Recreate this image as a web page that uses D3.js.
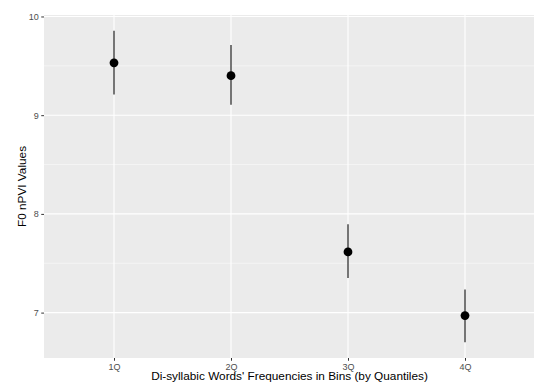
<html>
<head>
<script src="https://d3js.org/d3.v7.min.js"></script>
<style>
  body { margin: 0; background: #fff; }
  text { font-family: "Liberation Sans", Arial, sans-serif; }
</style>
</head>
<body>
<svg width=534 height=382 id="chart"></svg>
<script>
// data
var bins = ["1Q", "2Q", "3Q", "4Q"];
var means = [9.53, 9.40, 7.615, 6.97];
var lowers = [9.21, 9.105, 7.35, 6.70];
var uppers = [9.855, 9.71, 7.895, 7.235];
var majorTicks = [7, 8, 9, 10];
var minorTicks = [7.5, 8.5, 9.5];

var pLeft = 44, pRight = 535, pTop = 15, pBottom = 358;

var x = d3.scalePoint().domain(bins).range([114, 465]);
var y = d3.scaleLinear().domain([6.54, 10.015]).range([pBottom, pTop]);

var svg = d3.select("#chart");

// panel background
svg.append("rect")
  .attr("x", pLeft).attr("y", pTop)
  .attr("width", pRight - pLeft).attr("height", pBottom - pTop)
  .attr("fill", "#ebebeb");

// grid
svg.append("g").selectAll("line")
  .data(minorTicks).enter().append("line")
  .attr("x1", pLeft).attr("x2", pRight)
  .attr("y1", function(d) { return y(d); })
  .attr("y2", function(d) { return y(d); })
  .attr("stroke", "#fafafa").attr("stroke-width", 0.6);

svg.append("g").selectAll("line")
  .data(majorTicks).enter().append("line")
  .attr("x1", pLeft).attr("x2", pRight)
  .attr("y1", function(d) { return y(d); })
  .attr("y2", function(d) { return y(d); })
  .attr("stroke", "#fff").attr("stroke-width", 1.1);

svg.append("g").selectAll("line")
  .data(bins).enter().append("line")
  .attr("y1", pTop).attr("y2", pBottom)
  .attr("x1", function(d) { return x(d); })
  .attr("x2", function(d) { return x(d); })
  .attr("stroke", "#fff").attr("stroke-width", 1.1);

// axes
var yAxis = svg.append("g")
  .attr("transform", "translate(" + pLeft + ",0)")
  .call(d3.axisLeft(y).tickValues(majorTicks).tickSize(2.75).tickPadding(2.5).tickFormat(d3.format("d")));
var xAxis = svg.append("g")
  .attr("transform", "translate(0," + pBottom + ")")
  .call(d3.axisBottom(x).tickSize(2.75).tickPadding(2.5));
[yAxis, xAxis].forEach(function(a) {
  a.select(".domain").remove();
  a.selectAll(".tick line").attr("stroke", "#333").attr("stroke-width", 1);
  a.selectAll(".tick text").attr("fill", "#4d4d4d").style("font-size", "9px")
    .style("font-family", "Liberation Sans, Arial, sans-serif");
});

// error bars and points
var g = svg.append("g");
g.selectAll("line.err")
  .data(bins).enter().append("line")
  .attr("class", "err")
  .attr("x1", function(d) { return x(d); })
  .attr("x2", function(d) { return x(d); })
  .attr("y1", function(d, i) { return y(lowers[i]); })
  .attr("y2", function(d, i) { return y(uppers[i]); })
  .attr("stroke", "#4a4a4a").attr("stroke-width", 1.5);

g.selectAll("circle")
  .data(bins).enter().append("circle")
  .attr("cx", function(d) { return x(d); })
  .attr("cy", function(d, i) { return y(means[i]); })
  .attr("r", 4.4)
  .attr("fill", "#000");

// axis titles
svg.append("text")
  .attr("x", (pLeft + pRight) / 2).attr("y", 380)
  .attr("text-anchor", "middle")
  .style("font-size", "11.8px").attr("fill", "#000")
  .text("Di-syllabic Words' Frequencies in Bins (by Quantiles)");

svg.append("text")
  .attr("transform", "translate(26," + ((pTop + pBottom) / 2) + ") rotate(-90)")
  .attr("text-anchor", "middle")
  .style("font-size", "11.8px").attr("fill", "#000")
  .text("F0 nPVI Values");
</script>
</body>
</html>
